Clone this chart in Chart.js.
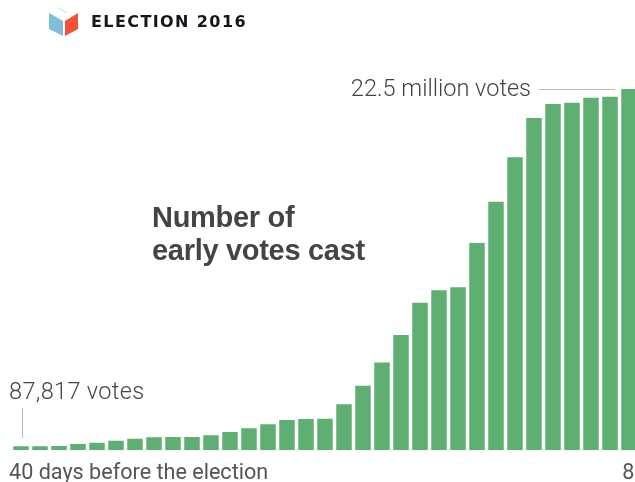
<!DOCTYPE html>
<html>
<head>
<meta charset="utf-8">
<title>Election 2016</title>
<script src="https://cdn.jsdelivr.net/npm/chart.js@4"></script>
<style>
    html, body { margin: 0; padding: 0; background: #fff; overflow: hidden; }
    #pagina { position: relative; width: 635px; height: 482px; overflow: hidden; }
    #lienzo { position: absolute; left: 0; top: 0; width: 660px; height: 482px; }
    #icono { position: absolute; left: 48px; top: 7px; }
    #cabecera {
        position: absolute; left: 91px; top: 12px;
        font: bold 16px "DejaVu Sans", sans-serif; letter-spacing: 1.4px; color: #15151c;
    }
    #titulo {
        position: absolute; left: 152px; top: 201px;
        font: bold 29px/33px "Liberation Sans", sans-serif; color: #444; letter-spacing: -0.3px;
    }
</style>
</head>
<body>
<div id="pagina">
    <div id="lienzo"><canvas id="grafico"></canvas></div>
    <svg id="icono" width="32" height="30" viewBox="0 0 32 30">
        <polygon points="1,6 15,14 15,29 1,22" fill="#7fbfd8"/>
        <polygon points="17,14 30,6 30,22 17,29" fill="#f5503a"/>
        <polygon points="9,1 10,0.5 18.5,5 17.5,6" fill="#cfe3ec"/>
    </svg>
    <div id="cabecera">ELECTION 2016</div>
    <div id="titulo">Number of<br>early votes cast</div>
</div>
<script>
const dias = [40, 39, 38, 37, 36, 35, 34, 33, 32, 31, 30, 29, 28, 27, 26, 25, 24,
              23, 22, 21, 20, 19, 18, 17, 16, 15, 14, 13, 12, 11, 10, 9, 8];

const votos = [87817, 250000, 260000, 392000, 473000, 598000, 722000, 810000, 828000,
               835000, 934000, 1140000, 1370000, 1620000, 1890000, 1950000, 1970000,
               2860000, 4020000, 5460000, 7180000, 9190000, 9960000, 10150000, 12910000,
               15480000, 18250000, 20690000, 21570000, 21650000, 21960000, 22020000, 22500000];

const etiquetaInicio = '40 days before the election';
const etiquetaFin = ' 8';
const notaInicio = '87,817 votes';
const notaFin = '22.5 million votes';

const ctx = document.getElementById('grafico').getContext('2d');

// notas sobre la primera y la ultima barra, con su linea guia
const notas = {
    id: 'notas',
    afterDatasetsDraw(chart) {
        const c = chart.ctx;
        const x = chart.scales.x;
        const y = chart.scales.y;
        const primera = x.getPixelForValue(0);
        const ultima = y.getPixelForValue(votos[votos.length - 1]);

        c.save();
        c.strokeStyle = '#bbb';
        c.lineWidth = 1;
        c.beginPath();
        c.moveTo(primera + 1.5, 408);
        c.lineTo(primera + 1.5, 438);
        c.moveTo(539, ultima + 0.5);
        c.lineTo(615, ultima + 0.5);
        c.stroke();

        c.fillStyle = '#444';
        c.font = '300 23.5px Roboto, sans-serif';
        c.textBaseline = 'alphabetic';
        c.textAlign = 'right';
        c.fillText(notaFin, 531, 96);
        c.textAlign = 'left';
        c.letterSpacing = '0.35px';
        c.fillText(notaInicio, primera - 12, 399);
        c.restore();
    }
};

new Chart(ctx, {
    type: 'bar',
    data: {
        labels: dias,
        datasets: [{
            data: votos,
            backgroundColor: '#5fae72',
            borderWidth: 0,
            barPercentage: 0.816,
            categoryPercentage: 1,
            minBarLength: 4
        }]
    },
    options: {
        responsive: true,
        maintainAspectRatio: false,
        animation: false,
        layout: { padding: { left: 11.5, right: 21.5, top: 89, bottom: 0 } },
        plugins: { legend: { display: false }, tooltip: { enabled: false } },
        scales: {
            x: {
                grid: { display: false, drawTicks: false },
                border: { display: false },
                afterFit: function (eje) { eje.height = 31.7; },
                ticks: {
                    autoSkip: false,
                    maxRotation: 0,
                    align: 'start',
                    labelOffset: -12,
                    padding: 10.5,
                    color: '#555',
                    font: { family: 'Roboto, sans-serif', size: 21.6 },
                    callback: function (valor, i) {
                        if (i === 0) return etiquetaInicio;
                        if (i === dias.length - 1) return etiquetaFin;
                        return '';
                    }
                }
            },
            y: { display: false, min: 0, max: 22500000 }
        }
    },
    plugins: [notas]
});
</script>
</body>
</html>
